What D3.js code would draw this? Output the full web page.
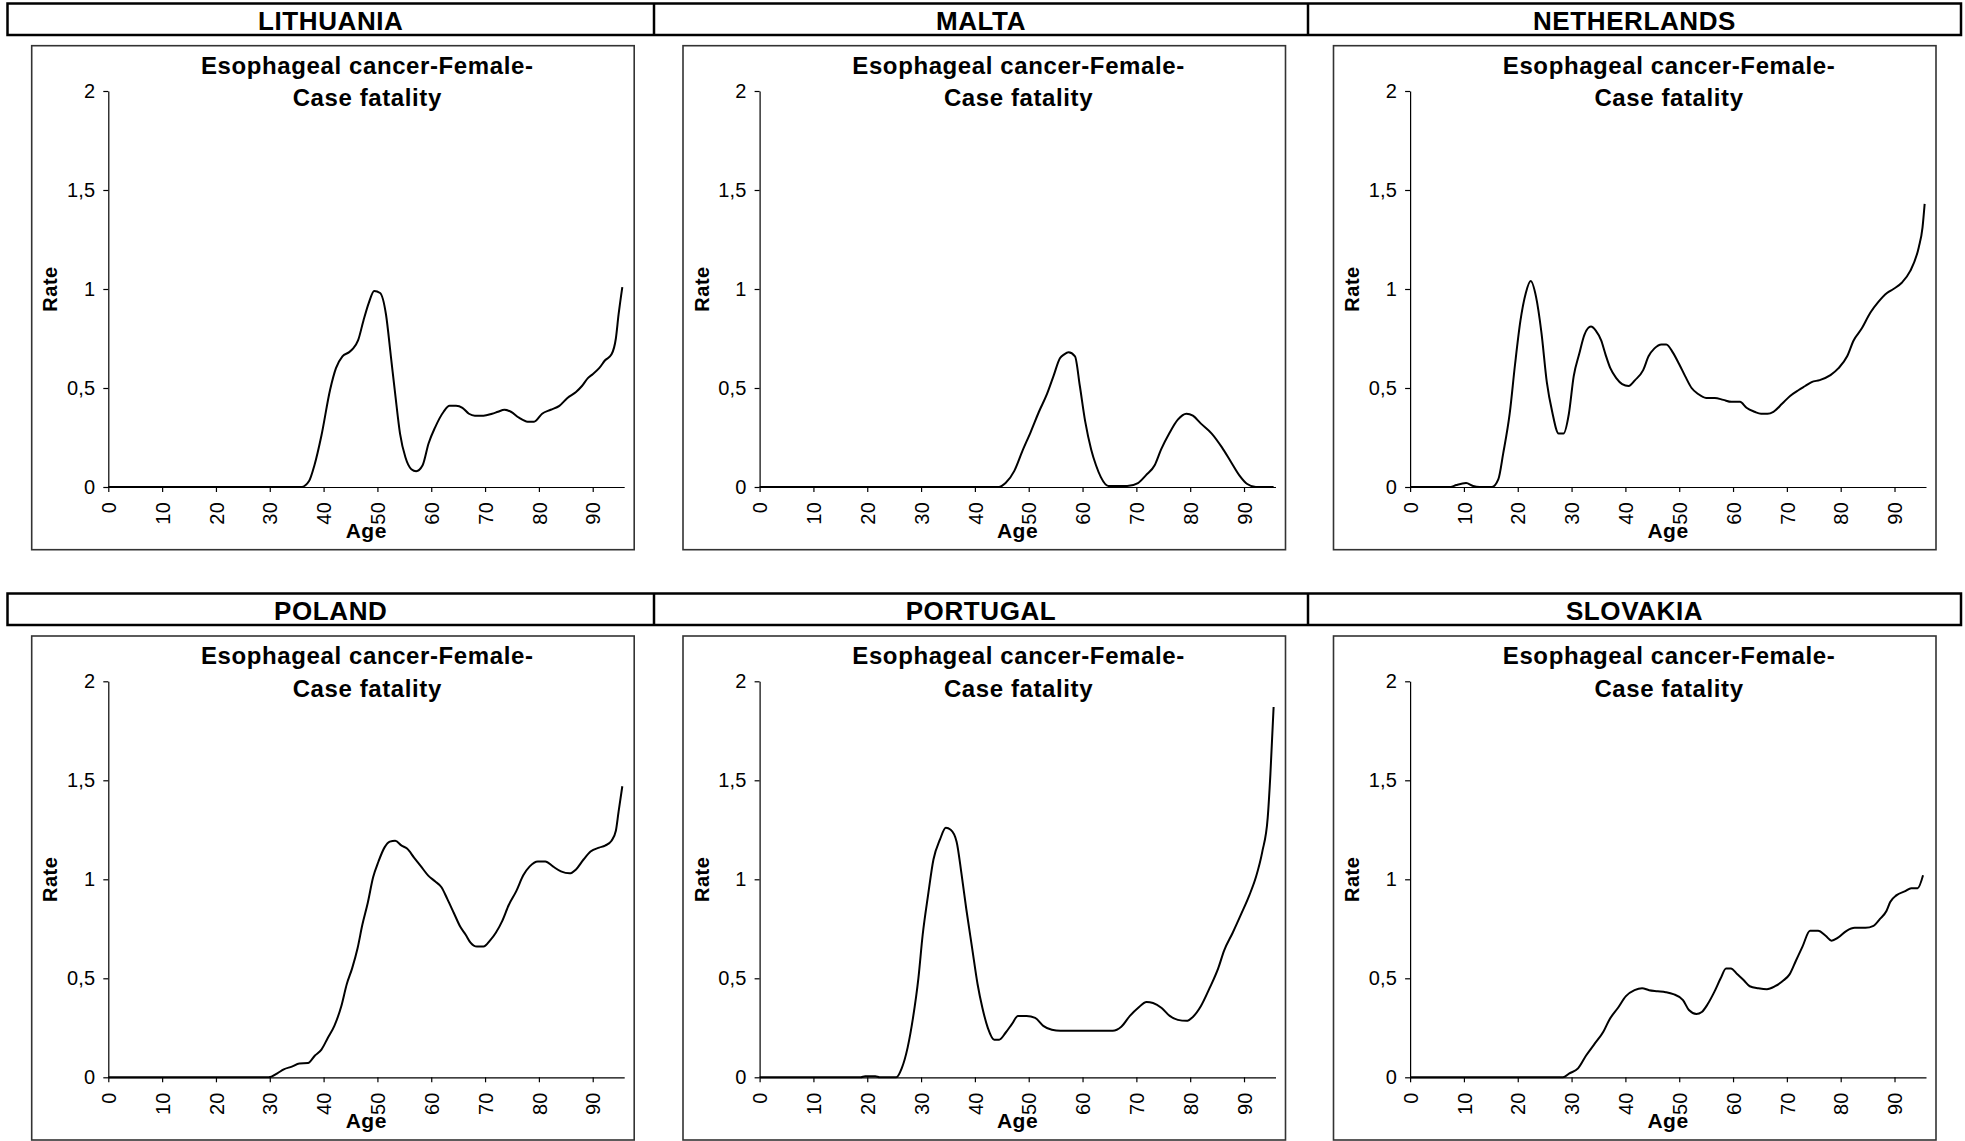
<!DOCTYPE html>
<html><head><meta charset="utf-8">
<script src="https://cdn.jsdelivr.net/npm/d3@7"></script>
<style>body{margin:0;background:#fff;}</style>
</head><body>
<svg id="c" width="1965" height="1141"></svg>
<script>
// ---------- data ----------
const countries = ["LITHUANIA", "MALTA", "NETHERLANDS", "POLAND", "PORTUGAL", "SLOVAKIA"];
const chartTitle = ["Esophageal cancer-Female-", "Case fatality"];
const yTicks = [0, 0.5, 1, 1.5, 2];
const yTickLabels = ["0", "0,5", "1", "1,5", "2"];
const xTicks = [0, 10, 20, 30, 40, 50, 60, 70, 80, 90];
const xLabel = "Age";
const yLabel = "Rate";

// [age, rate]
const lithuania = [[0,0],[35.9,0],[37.3,0.03],[38.3,0.11],[39.6,0.26],[41.2,0.49],[42.3,0.60],[43.5,0.66],[44.7,0.68],[45.5,0.70],[46.4,0.74],[47.4,0.84],[48.4,0.93],[49.4,0.99],[50.5,0.98],[51.6,0.87],[52.5,0.66],[53.3,0.47],[54.2,0.27],[55.2,0.15],[56.3,0.09],[57.2,0.08],[58.4,0.11],[59.5,0.22],[60.7,0.30],[62.3,0.38],[63.4,0.41],[64.6,0.41],[65.8,0.40],[67,0.37],[68.1,0.36],[69.7,0.36],[71.3,0.37],[72.4,0.38],[73.6,0.39],[74.8,0.38],[76.3,0.35],[77.9,0.33],[79.1,0.33],[80.6,0.37],[82.2,0.39],[83.8,0.41],[85.3,0.45],[86.9,0.48],[88,0.51],[89.1,0.55],[90,0.57],[91.2,0.60],[92.3,0.64],[93.5,0.67],[94.3,0.75],[94.8,0.87],[95.5,1.01]];
const malta = [[0,0],[44.4,0],[45.7,0.02],[47.3,0.08],[48.8,0.18],[50.4,0.28],[51.9,0.38],[53.4,0.47],[54.6,0.56],[55.8,0.65],[56.6,0.67],[57.4,0.68],[58.6,0.66],[59.5,0.51],[60.5,0.33],[61.6,0.19],[62.5,0.11],[63.4,0.05],[64.8,0.005],[68.3,0.005],[70.3,0.02],[71.8,0.06],[73.4,0.11],[74.6,0.19],[76.1,0.27],[77.7,0.34],[79.3,0.37],[80.5,0.36],[82,0.32],[84,0.27],[85.9,0.20],[87.5,0.13],[89.1,0.06],[90.6,0.015],[92.2,0],[95.5,0]];
const netherlands = [[0,0],[7.5,0],[8.6,0.01],[10.4,0.02],[11.7,0.005],[12.9,0],[15.2,0],[16.4,0.04],[17.3,0.17],[18.5,0.37],[19.5,0.62],[20.5,0.84],[21.5,0.98],[22.4,1.04],[23.4,0.96],[24.4,0.78],[25.4,0.53],[26.4,0.38],[27.6,0.27],[28.5,0.27],[29.5,0.37],[30.4,0.56],[31.4,0.67],[32.4,0.77],[33.6,0.81],[34.5,0.79],[35.5,0.74],[36.3,0.67],[37.2,0.60],[38.3,0.55],[39.4,0.52],[40.6,0.51],[41.8,0.54],[43.3,0.59],[44.3,0.66],[45.4,0.70],[46.7,0.72],[47.6,0.72],[48.8,0.68],[50,0.62],[51.1,0.56],[52.3,0.50],[53.5,0.47],[55,0.45],[56.6,0.45],[58.2,0.44],[59.7,0.43],[61.3,0.43],[62.5,0.40],[64,0.38],[65.2,0.37],[66.4,0.37],[67.5,0.38],[69.1,0.42],[70.6,0.46],[72.2,0.49],[73.4,0.51],[74.6,0.53],[76.1,0.54],[78.1,0.565],[79.6,0.60],[81.2,0.66],[82.4,0.74],[83.9,0.80],[85.5,0.88],[87,0.935],[88.6,0.98],[89.8,1.0],[91.3,1.03],[92.9,1.09],[94.5,1.21],[95.2,1.31],[95.6,1.43]];
const poland = [[0,0],[29.8,0],[31.4,0.02],[32.6,0.04],[34.1,0.054],[35.5,0.07],[37.1,0.072],[38.4,0.11],[39.6,0.14],[40.8,0.20],[42,0.26],[43.3,0.36],[44.3,0.47],[45.3,0.55],[46.3,0.65],[47.2,0.77],[48.2,0.88],[49.2,1.01],[50.2,1.09],[51.3,1.16],[52.3,1.19],[53.3,1.195],[54.5,1.17],[55.5,1.155],[56.8,1.11],[58.1,1.065],[59.4,1.02],[60.7,0.99],[61.9,0.96],[63,0.90],[64.2,0.83],[65.4,0.76],[66.4,0.72],[67.3,0.68],[68.5,0.66],[69.7,0.66],[70.9,0.69],[72,0.73],[73.2,0.79],[74.4,0.87],[75.8,0.94],[77.1,1.02],[78.3,1.065],[79.8,1.09],[81.2,1.09],[82.6,1.065],[84.1,1.04],[85.7,1.03],[86.9,1.05],[88.3,1.10],[89.6,1.14],[91.2,1.16],[92.3,1.17],[93.5,1.195],[94.3,1.245],[94.8,1.34],[95.5,1.47]];
const portugal = [[0,0],[18.8,0],[19.6,0.005],[21.5,0.005],[22.3,0],[25.4,0],[26.4,0.045],[27.5,0.15],[28.5,0.30],[29.5,0.50],[30.3,0.72],[31.3,0.92],[32.3,1.10],[33.5,1.20],[34.6,1.26],[35.5,1.25],[36.6,1.19],[37.5,1.03],[38.4,0.85],[39.5,0.65],[40.5,0.47],[41.4,0.35],[42.4,0.25],[43.6,0.19],[44.5,0.19],[45.7,0.225],[46.9,0.27],[48,0.31],[49.6,0.31],[51.2,0.30],[52.7,0.26],[54.3,0.24],[55.9,0.235],[65.6,0.235],[67.2,0.255],[68.8,0.31],[70.3,0.35],[71.9,0.38],[73.1,0.375],[74.7,0.35],[76.2,0.31],[77.7,0.29],[79.3,0.285],[80.5,0.305],[82,0.36],[83.6,0.45],[85.2,0.55],[86.3,0.64],[87.9,0.73],[89.4,0.82],[91,0.92],[92.2,1.01],[93.4,1.14],[94.4,1.31],[94.9,1.53],[95.5,1.87]];
const slovakia = [[0,0],[28.4,0],[29.6,0.02],[31.2,0.045],[32.7,0.11],[34.3,0.17],[35.9,0.23],[37,0.29],[38.6,0.35],[40.1,0.41],[41.7,0.44],[43.1,0.45],[44.4,0.44],[46,0.435],[47.5,0.43],[48.9,0.42],[50.7,0.39],[51.8,0.34],[53.2,0.32],[54.2,0.33],[55.3,0.37],[56.5,0.43],[57.7,0.50],[58.7,0.55],[59.6,0.55],[60.8,0.52],[62,0.49],[63.1,0.46],[64.7,0.45],[66.3,0.445],[67.8,0.46],[69.4,0.49],[70.5,0.52],[71.7,0.59],[72.9,0.66],[74.3,0.74],[75.8,0.74],[77.2,0.715],[78.3,0.69],[79.5,0.705],[81.1,0.74],[82.6,0.755],[84.6,0.755],[86.1,0.765],[87.3,0.80],[88.5,0.84],[89.2,0.885],[90.4,0.92],[92,0.94],[93.1,0.955],[94.3,0.955],[95.3,1.02]];
const seriesList = [lithuania, malta, netherlands, poland, portugal, slovakia];

// ---------- layout ----------
const FONT = "'Liberation Sans', Arial, Helvetica, sans-serif";
const svg = d3.select("#c");
const headerTops = [3.5, 593.5];
const headerH = 31.5;
const headerCols = [7.5, 654, 1308, 1961];
const panelLefts = [31.7, 683, 1333.5];
const panelTops = [45.7, 636];
const panelW = 602.5, panelH = 504;

const x = d3.scaleLinear().domain([0, 95.85]).range([76.6, 592.5]);
const y = d3.scaleLinear().domain([0, 2]).range([441.3, 45.3]);

// header rows
headerTops.forEach((ty, r) => {
  const g = svg.append("g");
  g.append("rect").attr("x", headerCols[0]).attr("y", ty)
    .attr("width", headerCols[3] - headerCols[0]).attr("height", headerH)
    .attr("fill", "none").attr("stroke", "#000").attr("stroke-width", 2.5);
  [1, 2].forEach(i => g.append("line").attr("x1", headerCols[i]).attr("x2", headerCols[i])
    .attr("y1", ty).attr("y2", ty + headerH).attr("stroke", "#000").attr("stroke-width", 2.5));
  [0, 1, 2].forEach(c => {
    g.append("text").attr("x", (headerCols[c] + headerCols[c + 1]) / 2)
      .attr("y", ty + headerH / 2 + 1).attr("dy", "0.36em")
      .attr("text-anchor", "middle").attr("font-family", FONT).attr("font-weight", "bold")
      .attr("font-size", 26).attr("letter-spacing", 0.6)
      .text(countries[r * 3 + c]);
  });
});

const line = d3.line().x(d => x(d[0])).y(d => y(d[1])).curve(d3.curveMonotoneX);

seriesList.forEach((data, i) => {
  const r = Math.floor(i / 3), c = i % 3;
  const g = svg.append("g").attr("transform", `translate(${panelLefts[c]},${panelTops[r]})`);
  g.append("rect").attr("x", 0).attr("y", 0).attr("width", panelW).attr("height", panelH)
    .attr("fill", "#fff").attr("stroke", "#333").attr("stroke-width", 1.6);

  // title
  const tcx = (x.range()[0] + x.range()[1]) / 2;
  [19.5, 52].forEach((ty, k) => {
    g.append("text").attr("x", tcx + 1).attr("y", ty).attr("dy", "0.36em")
      .attr("text-anchor", "middle").attr("font-family", FONT).attr("font-weight", "bold")
      .attr("font-size", 24).attr("letter-spacing", 0.6).text(chartTitle[k]);
  });

  // y axis
  const ya = g.append("g").attr("transform", `translate(${x(0)},0)`)
    .call(d3.axisLeft(y).tickValues(yTicks).tickFormat((d, j) => yTickLabels[j])
      .tickSize(5).tickSizeOuter(0).tickPadding(8));
  ya.selectAll("text").attr("font-family", FONT).attr("font-size", 20).attr("letter-spacing", 0.2).attr("fill", "#000");
  ya.selectAll("path,line").attr("stroke", "#000").attr("stroke-width", 1.2);

  // x axis
  const xa = g.append("g").attr("transform", `translate(0,${y(0)})`)
    .call(d3.axisBottom(x).tickValues(xTicks).tickSize(5).tickSizeOuter(0));
  xa.selectAll("path,line").attr("stroke", "#000").attr("stroke-width", 1.2);
  xa.selectAll("text").attr("font-family", FONT).attr("font-size", 20).attr("letter-spacing", 0.2)
    .attr("fill", "#000").attr("transform", "rotate(-90)")
    .attr("x", -15).attr("y", 0).attr("dy", "0.36em").attr("text-anchor", "end");

  // axis titles
  g.append("text").attr("transform", `translate(18.5,${(y(0) + y(2)) / 2}) rotate(-90)`)
    .attr("dy", "0.36em").attr("text-anchor", "middle").attr("font-family", FONT)
    .attr("font-weight", "bold").attr("font-size", 20).attr("letter-spacing", 0.5).text(yLabel);
  g.append("text").attr("x", tcx).attr("y", 484.5).attr("dy", "0.36em")
    .attr("text-anchor", "middle").attr("font-family", FONT)
    .attr("font-weight", "bold").attr("font-size", 21).attr("letter-spacing", 0.5).text(xLabel);

  // series
  g.append("path").datum(data).attr("d", line)
    .attr("fill", "none").attr("stroke", "#000").attr("stroke-width", 2);
});
</script>
</body></html>
